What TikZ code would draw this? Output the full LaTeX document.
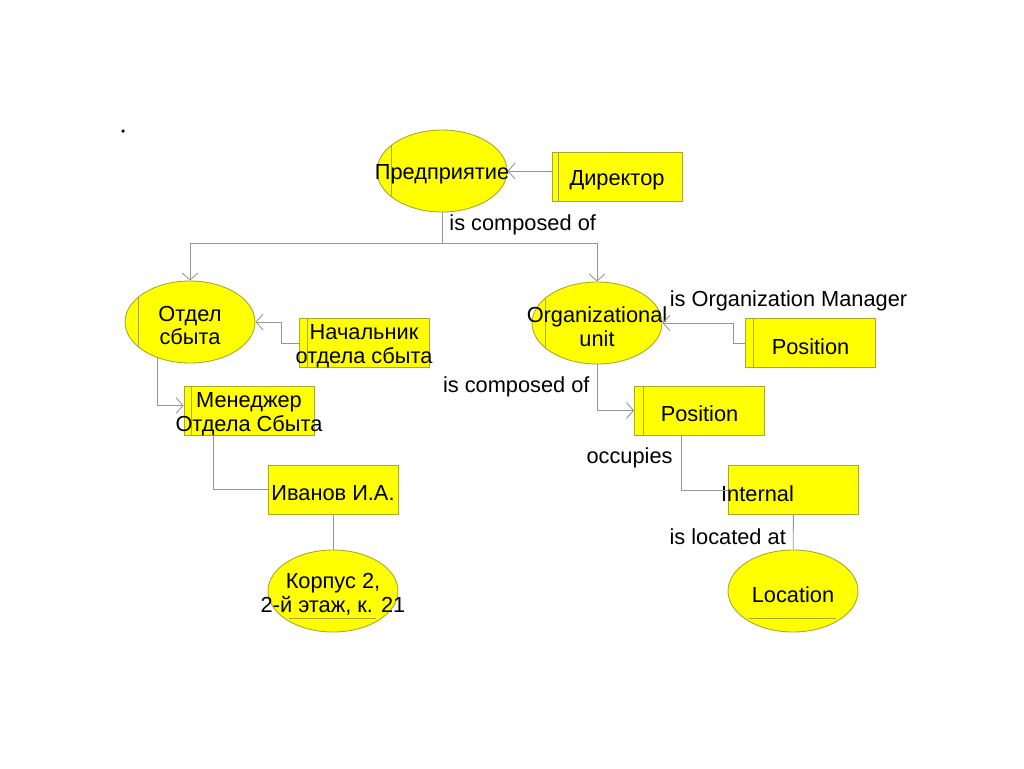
\documentclass[tikz,border=0pt]{standalone}
\usepackage{fontspec}
\setmainfont{Liberation Sans}
\usetikzlibrary{shapes.geometric, arrows.meta}
\definecolor{rim}{RGB}{168,168,40}
\definecolor{wire}{RGB}{150,150,150}
\definecolor{sun}{RGB}{255,255,0}

\begin{document}
\begin{tikzpicture}[
    x=0.02cm, y=-0.02cm,
    font=\fontsize{12.4}{13.6}\selectfont,
    >={Straight Barb[length=4pt, width=9pt]},
    every label/.style={align=center, inner sep=0pt, yshift=-0.07cm},
    entity/.style={ellipse, draw=rim, line width=0.5pt, fill=sun, minimum width=2.6cm, minimum height=1.64cm, inner sep=0pt},
    role/.style={rectangle, draw=rim, line width=0.5pt, fill=sun, minimum width=2.6cm, minimum height=0.98cm, inner sep=0pt},
    marked/.style={path picture={\draw[rim, line width=0.5pt] ([xshift=#1]path picture bounding box.north west) -- ([xshift=#1]path picture bounding box.south west);}},
    marked/.default=0.14cm,
    underlined/.style={path picture={\draw[rim, line width=0.5pt] ([shift={(-0.88cm,0.28cm)}]path picture bounding box.south) -- ([shift={(0.86cm,0.28cm)}]path picture bounding box.south);}},
    link/.style={draw=wire, line width=0.5pt},
    lbl/.style={inner sep=0pt}
]
   \useasboundingbox (0,0) rectangle (1024,768);

   % stray mark
   \fill (123,131) circle (1pt);

   % Entities
   \node[entity, marked=0.28cm, label=center:Предприятие] (firm) at (442,171) {};
   \node[role, marked=0.12cm, label=center:Директор] (director) at (617,176.5) {};

   % left branch
   \node[entity, marked=0.26cm, label={center:Отдел\\сбыта}] (dept) at (190,322) {};
   \node[role, marked=0.16cm, label={center:Начальник\\отдела сбыта}] (head) at (364,343) {};
   \node[role, marked, label={center:Менеджер\\Отдела Сбыта}] (manager) at (249,410.5) {};
   \node[role, label=center:Иванов И.А.] (ivanov) at (333,489.5) {};
   \node[entity, underlined, label={center:Корпус 2,\\2-й этаж, к. 21}] (building) at (333,591) {};

   % right branch
   \node[entity, marked=0.26cm, label={center:Organizational\\unit}] (orgunit) at (597,323) {};
   \node[role, marked=0.16cm, label=center:Position] (pos1) at (810.5,343) {};
   \node[role, marked=0.18cm, label=center:Position] (pos2) at (699.5,410.5) {};
   \node[role, label={[xshift=-0.72cm]center:Internal}] (internal) at (793.5,490) {};
   \node[entity, underlined, label=center:Location] (location) at (793,591) {};

   % Links
   \coordinate (fork) at (442,243);
   \draw[link, ->] (director.west |- firm.east) -- (firm.east);
   \draw[link] (firm.south) -- node[lbl, pos=0.4, right=0.14cm] {is composed of} (fork);
   \draw[link, ->] (fork) -| (dept.north);
   \draw[link, ->] (fork) -| (orgunit.north);

   \draw[link, ->] (head.west) -- ++(-17,0) |- (dept.east);
   \draw[link, ->] (dept.-132) |- ([yshift=0.1cm]manager.west);
   \draw[link] ([xshift=-0.72cm]manager.south) |- (ivanov.west);
   \draw[link] (ivanov) -- (building);

   \draw[link, ->] (pos1.west) -- ++(-12,0) |- node[lbl, pos=1, anchor=south west, xshift=0.14cm, yshift=0.24cm] {is Organization Manager} (orgunit.east);
   \draw[link, ->] (orgunit.south) |- node[lbl, pos=0.24, left=0.14cm] {is composed of} (pos2.west);
   \draw[link] ([xshift=-0.37cm]pos2.south) |- node[lbl, pos=0.21, left=0.16cm] {occupies} (internal.west);
   \draw[link] (internal) -- node[lbl, pos=0.63, left=0.14cm] {is located at} (location);
\end{tikzpicture}
\end{document}
